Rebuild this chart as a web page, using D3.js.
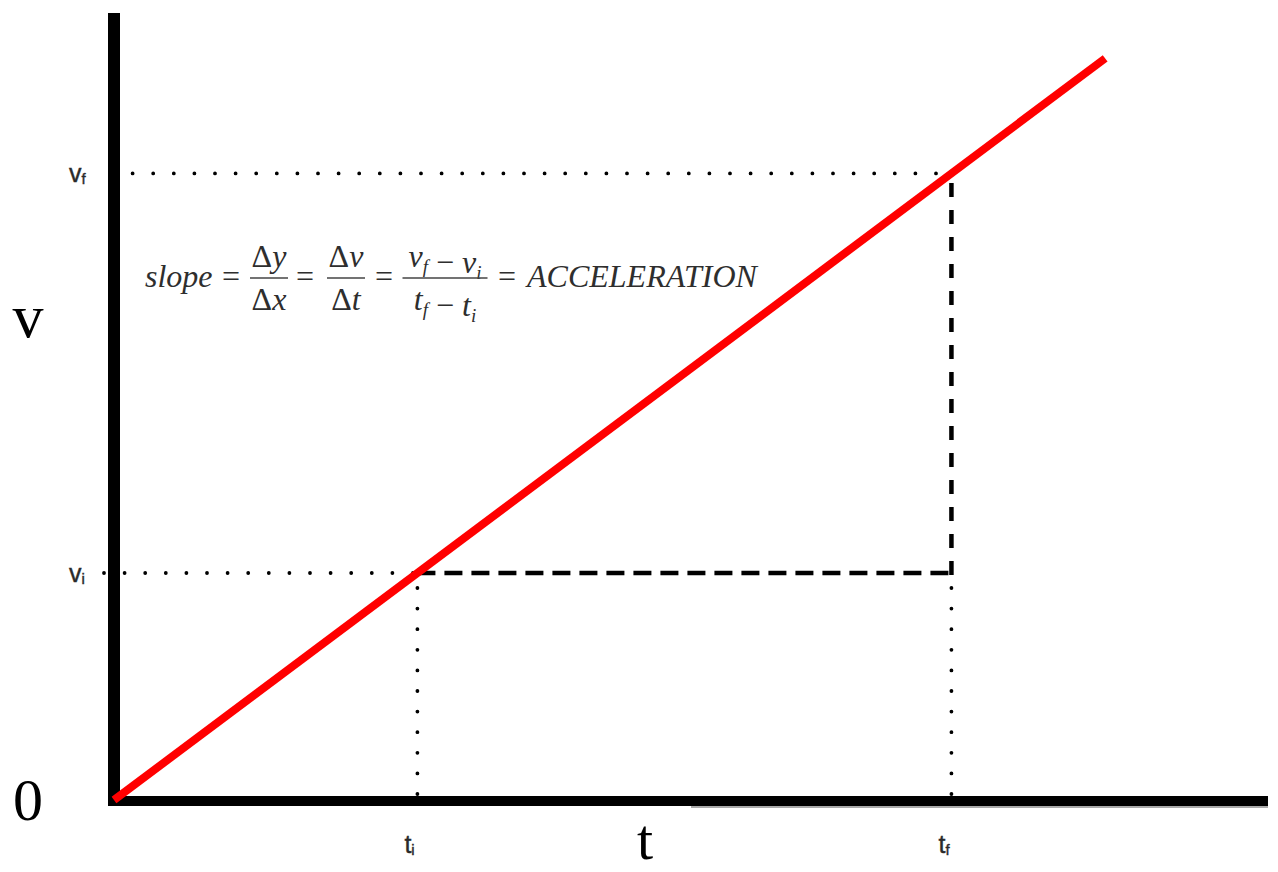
<!DOCTYPE html>
<html>
<head>
<meta charset="utf-8">
<script src="https://cdn.jsdelivr.net/npm/d3@7"></script>
<style>
  body { margin: 0; background: #fff; }
  svg { display: block; }
</style>
</head>
<body>
<div class="container"></div>
<script>
var w = 1278;
var h = 872;

// velocity vs time, constant acceleration
var tValues = [0, 9.8];
var vValues = [0, 9.8];
var tMarks = [3, 8.28];   // t_i, t_f
var vMarks = [3, 8.28];   // v_i, v_f
var tLabels = ["i", "f"];
var vLabels = ["i", "f"];
var tMax = 11.41;
var vMax = 10.4;

var svg = d3
  .select(".container")
  .append("svg")
  .attr("width", w)
  .attr("height", h)
  .attr("viewBox", `0 0 ${w} ${h}`);

var xScale = d3.scaleLinear().domain([0, tMax]).range([114, 1268]);
var yScale = d3.scaleLinear().domain([0, vMax]).range([800, 13]);

var x0 = xScale(0), y0 = yScale(0);

// dotted guide lines
var dotted = svg.append("g")
  .attr("stroke", "#000")
  .attr("stroke-width", 3.8)
  .attr("stroke-linecap", "round")
  .attr("stroke-dasharray", "0 20.6")
  .attr("fill", "none");

// horizontal: v_i and v_f
dotted.append("line")
  .attr("x1", x0 - 10).attr("y1", yScale(vMarks[0]))
  .attr("x2", xScale(tMarks[0])).attr("y2", yScale(vMarks[0]));
dotted.append("line")
  .attr("x1", x0 - 2).attr("y1", yScale(vMarks[1]))
  .attr("x2", xScale(tMarks[1]) - 4).attr("y2", yScale(vMarks[1]));

// vertical: t_i and t_f, drawn from the axis upward
tMarks.forEach(function (t) {
  dotted.append("line")
    .attr("x1", xScale(t)).attr("y1", y0 - 6)
    .attr("x2", xScale(t)).attr("y2", yScale(vMarks[0]) + 6);
});

// dashed rise / run
svg.append("line")
  .attr("x1", xScale(tMarks[0])).attr("y1", yScale(vMarks[0]))
  .attr("x2", xScale(tMarks[1])).attr("y2", yScale(vMarks[0]))
  .attr("stroke", "#000")
  .attr("stroke-width", 4.5)
  .attr("stroke-dasharray", "18 9");
svg.append("line")
  .attr("x1", xScale(tMarks[1])).attr("y1", yScale(vMarks[0]) + 2)
  .attr("x2", xScale(tMarks[1])).attr("y2", yScale(vMarks[1]) - 3)
  .attr("stroke", "#000")
  .attr("stroke-width", 4.5)
  .attr("stroke-dasharray", "14 13");

// axes (plain thick lines)
svg.append("line")
  .attr("x1", 691).attr("y1", y0 + 7)
  .attr("x2", xScale(tMax)).attr("y2", y0 + 7)
  .attr("stroke", "#aaa")
  .attr("stroke-width", 2);
svg.append("line")
  .attr("x1", x0 - 6).attr("y1", y0 + 1)
  .attr("x2", xScale(tMax)).attr("y2", y0 + 1)
  .attr("stroke", "#000")
  .attr("stroke-width", 10);
svg.append("line")
  .attr("x1", x0).attr("y1", yScale(vMax))
  .attr("x2", x0).attr("y2", y0 + 6)
  .attr("stroke", "#000")
  .attr("stroke-width", 12);

// the red v(t) line
var line = d3.line()
  .x(function (d, i) { return xScale(tValues[i]); })
  .y(function (d, i) { return yScale(vValues[i]); });

svg.append("path")
  .datum(tValues)
  .attr("d", line)
  .attr("fill", "none")
  .attr("stroke", "#ff0000")
  .attr("stroke-width", 8);

// small labels v_i, v_f, t_i, t_f
var small = svg.append("g")
  .attr("font-family", "'Liberation Sans', Arial, sans-serif")
  .attr("font-size", 25)
  .attr("fill", "#2a2a2a")
  .attr("stroke", "#2a2a2a")
  .attr("stroke-width", 0.4);

vMarks.forEach(function (v, i) {
  var t = small.append("text")
    .attr("x", 69)
    .attr("y", yScale(v) + 9);
  t.append("tspan").text("v");
  t.append("tspan").attr("font-size", 15).attr("dy", 2).text(vLabels[i]);
});

tMarks.forEach(function (tv, i) {
  var t = small.append("text")
    .attr("x", xScale(tv) - 13)
    .attr("y", 853);
  t.append("tspan").text("t");
  t.append("tspan").attr("font-size", 15).attr("dy", 2).text(tLabels[i]);
});

// big axis letters
var big = svg.append("g")
  .attr("font-family", "'Liberation Serif', 'Times New Roman', serif")
  .attr("fill", "#000");
big.append("text").attr("x", 28).attr("y", 337).attr("font-size", 62)
  .attr("text-anchor", "middle").text("v");
big.append("text").attr("x", 28).attr("y", 820).attr("font-size", 60)
  .attr("text-anchor", "middle").text("0");
big.append("text").attr("x", 645).attr("y", 859).attr("font-size", 58)
  .attr("text-anchor", "middle").text("t");

// slope formula
var f = svg.append("g")
  .attr("font-family", "'Liberation Serif', 'Times New Roman', serif")
  .attr("font-size", 32)
  .attr("fill", "#2e2e2e");

var base = 287, numY = 267, denY = 310, barY = 278;

f.append("text").attr("x", 145).attr("y", base)
  .attr("font-style", "italic").text("slope");

[231, 305, 384, 507].forEach(function (cx) {
  f.append("text").attr("x", cx).attr("y", base)
    .attr("text-anchor", "middle").text("=");
});

function delta(sel, letter) {
  sel.append("tspan").text("\u0394");
  sel.append("tspan").attr("font-style", "italic").text(letter);
}

function sub(sel, letter, s) {
  sel.append("tspan").attr("font-style", "italic").text(letter);
  sel.append("tspan").attr("font-style", "italic").attr("font-size", 19)
    .attr("dy", 6).text(s);
  sel.append("tspan").attr("dy", -6).text("");
}

function frac(cx, width, top, bottom) {
  var n = f.append("text").attr("x", cx).attr("y", numY).attr("text-anchor", "middle");
  top(n);
  var d = f.append("text").attr("x", cx).attr("y", denY).attr("text-anchor", "middle");
  bottom(d);
  f.append("line")
    .attr("x1", cx - width / 2).attr("x2", cx + width / 2)
    .attr("y1", barY).attr("y2", barY)
    .attr("stroke", "#444").attr("stroke-width", 1.6);
}

frac(269, 38, function (s) { delta(s, "y"); }, function (s) { delta(s, "x"); });
frac(346, 38, function (s) { delta(s, "v"); }, function (s) { delta(s, "t"); });
frac(445, 85,
  function (s) { sub(s, "v", "f"); s.append("tspan").text(" \u2212 "); sub(s, "v", "i"); },
  function (s) { sub(s, "t", "f"); s.append("tspan").text(" \u2212 "); sub(s, "t", "i"); });

f.append("text").attr("x", 527).attr("y", base)
  .attr("font-style", "italic").text("ACCELERATION");
</script>
</body>
</html>
